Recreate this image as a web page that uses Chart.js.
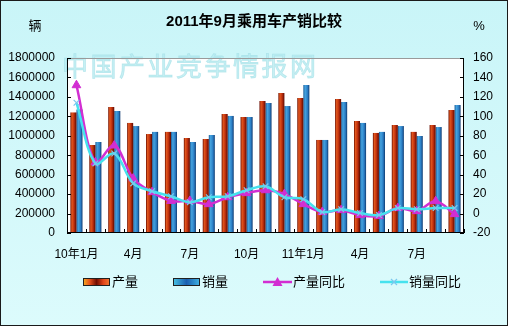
<!DOCTYPE html>
<html><head><meta charset="utf-8">
<script src="https://cdn.jsdelivr.net/npm/chart.js@4/dist/chart.umd.min.js"></script>
<style>html,body{margin:0;padding:0;background:#fff}#wrap{width:508px;height:326px;position:relative}</style>
</head><body><div id="wrap"><canvas id="c" width="508" height="326"></canvas></div>
<script>
const categories = ['10年1月','2月','3月','4月','5月','6月','7月','8月','9月','10月','11月','12月','11年1月','2月','3月','4月','5月','6月','7月','8月','9月'];
const production = [1240000, 905000, 1296000, 1132000, 1018000, 1040000, 977000, 967000, 1224000, 1193000, 1358000, 1440000, 1389000, 957000, 1379000, 1152000, 1029000, 1111000, 1040000, 1111000, 1265000];
const sales = [1270000, 936000, 1255000, 1100000, 1040000, 1040000, 936000, 1008000, 1204000, 1193000, 1337000, 1306000, 1523000, 957000, 1348000, 1132000, 1040000, 1100000, 998000, 1090000, 1317000];
const prodYoY = [132, 52.6, 70, 36, 22, 13, 13, 9.7, 16.8, 21, 24, 20, 9.7, 1.5, 3.5, -1.6, -2.6, 5.6, 2.5, 12.7, -0.6];
const salesYoY = [114, 51.6, 61.8, 31, 23, 17.8, 11.7, 16.8, 17.8, 24, 28, 16.8, 14.8, 1.5, 4.5, 0.5, -1.6, 5.6, 4.5, 5.6, 5.6];
const seriesNames = ['产量','销量','产量同比','销量同比'];
const titleText = '2011年9月乘用车产销比较';
const leftUnit = '辆', rightUnit = '%';
const watermark = '中国产业竞争情报网';

const FONT = '"Liberation Sans", "Noto Sans CJK SC", sans-serif';
const CAT_PCT = 0.64, BAR_PCT = 1.0;
const orangeStops = [[0,'#6a0c00'],[0.25,'#e2581e'],[0.6,'#c0300e'],[1,'#5a0800']];
const blueStops = [[0,'#1c5c98'],[0.3,'#45a4e0'],[0.7,'#2a7cc4'],[1,'#0f3a70']];

function barGrad(ctx, dsIdx, stops, fallback){
  const chart = ctx.chart, xs = chart.scales && chart.scales.x;
  if (!xs || !chart.chartArea || ctx.dataIndex === undefined) return fallback;
  const n = categories.length, cw = xs.width / n, gw = cw * CAT_PCT, bw = gw / 2;
  const c = xs.getPixelForValue(ctx.dataIndex);
  const left = c - gw / 2 + dsIdx * bw;
  const g = chart.ctx.createLinearGradient(left, 0, left + bw, 0);
  stops.forEach(s => g.addColorStop(s[0], s[1]));
  return g;
}

const deco = {
  id: 'deco',
  beforeDraw(chart){
    const c = chart.ctx, a = chart.chartArea, W = chart.width, H = chart.height;
    c.save();
    const g = c.createLinearGradient(0,0,0,H);
    g.addColorStop(0,'#c9f5f8'); g.addColorStop(1,'#dcfbfc');
    c.fillStyle = g; c.fillRect(0,0,W,H);
    c.fillStyle = '#ffffff'; c.fillRect(a.left, a.top, a.right-a.left, a.bottom-a.top);
    c.restore();
  },
  beforeDatasetsDraw(chart){
    const c = chart.ctx, a = chart.chartArea;
    c.save();
    c.font = '26px "Noto Sans CJK SC", sans-serif';
    c.fillStyle = 'rgba(185,236,241,0.8)';
    c.strokeStyle = 'rgba(160,222,230,0.6)'; c.lineWidth = 0.8;
    c.textBaseline = 'middle'; c.textAlign = 'left';
    try { c.letterSpacing = '2.5px'; } catch(e) {}
    c.fillText(watermark, a.left - 5, 66);
    c.strokeText(watermark, a.left - 5, 66);
    c.restore();
  },
  afterDraw(chart){
    const c = chart.ctx, a = chart.chartArea, W = chart.width, H = chart.height;
    const xs = chart.scales.x, ys = chart.scales.y;
    c.save();
    c.lineWidth = 1;
    c.strokeStyle = '#9a9a9a';
    c.beginPath(); c.moveTo(a.left, a.top + 0.5); c.lineTo(a.right, a.top + 0.5); c.stroke();
    c.strokeStyle = '#000';
    c.beginPath();
    c.moveTo(a.left + 0.5, a.top); c.lineTo(a.left + 0.5, a.bottom);
    c.moveTo(a.right - 0.5, a.top); c.lineTo(a.right - 0.5, a.bottom);
    c.moveTo(a.left, a.bottom - 0.5); c.lineTo(a.right, a.bottom - 0.5);
    ys.ticks.forEach((t,i) => {
      const y = Math.round(ys.getPixelForTick(i)) + 0.5;
      c.moveTo(a.left, y); c.lineTo(a.left + 4, y);
      c.moveTo(a.right - 4, y); c.lineTo(a.right, y);
    });
    const n = categories.length, cw = (xs.right - xs.left) / n;
    for (let i = 0; i <= n; i++) {
      const x = Math.round(xs.left + i * cw) + 0.5;
      c.moveTo(x, a.bottom); c.lineTo(x, a.bottom - 4);
    }
    c.stroke();
    c.fillStyle = '#000';
    c.textBaseline = 'middle'; c.textAlign = 'center';
    c.font = 'bold 15px ' + FONT;
    c.fillText(titleText, 254, 22);
    c.font = '13px ' + FONT;
    c.fillText(leftUnit, 35, 26);
    c.fillText(rightUnit, 479, 26);
    const ly = 282;
    const box = (x, stops) => {
      const g = c.createLinearGradient(x, 0, x + 27, 0);
      stops.forEach(s => g.addColorStop(s[0], s[1]));
      c.fillStyle = g; c.fillRect(x, ly - 4, 27, 8);
      c.strokeStyle = '#202020'; c.lineWidth = 1; c.strokeRect(x + 0.5, ly - 3.5, 26, 7);
    };
    box(83, [[0,'#f6b020'],[0.25,'#e6501c'],[0.5,'#700c00'],[0.75,'#e24418'],[1,'#f07a30']]);
    box(173, [[0,'#48c4e4'],[0.5,'#1a5eb0'],[1,'#40b4e4']]);
    c.font = '13px ' + FONT; c.textAlign = 'left'; c.fillStyle = '#000';
    c.fillText(seriesNames[0], 112, ly);
    c.fillText(seriesNames[1], 202, ly);
    c.lineWidth = 2.5;
    c.strokeStyle = '#d22ed2';
    c.beginPath(); c.moveTo(263, ly); c.lineTo(292, ly); c.stroke();
    c.fillStyle = '#d22ed2';
    c.beginPath(); c.moveTo(277.5, ly - 5); c.lineTo(282.5, ly + 4); c.lineTo(272.5, ly + 4); c.closePath(); c.fill();
    c.strokeStyle = '#46e2ee';
    c.beginPath(); c.moveTo(380, ly); c.lineTo(408, ly); c.stroke();
    c.lineWidth = 1.2; c.strokeStyle = '#7cc8ee';
    c.beginPath(); c.moveTo(391, ly - 3); c.lineTo(397, ly + 3); c.moveTo(397, ly - 3); c.lineTo(391, ly + 3); c.stroke();
    c.fillStyle = '#000';
    c.fillText(seriesNames[2], 293, ly);
    c.fillText(seriesNames[3], 409, ly);
    c.strokeStyle = '#1a1a1a'; c.lineWidth = 1;
    c.strokeRect(0.5, 0.5, W - 1, H - 1);
    c.restore();
  }
};

new Chart(document.getElementById('c'), {
  data: {
    labels: categories,
    datasets: [
      { type: 'bar', label: seriesNames[0], data: production, yAxisID: 'y', order: 3,
        backgroundColor: ctx => barGrad(ctx, 0, orangeStops, '#c0300e'), borderWidth: 0,
        categoryPercentage: CAT_PCT, barPercentage: BAR_PCT },
      { type: 'bar', label: seriesNames[1], data: sales, yAxisID: 'y', order: 3,
        backgroundColor: ctx => barGrad(ctx, 1, blueStops, '#2a7cc4'), borderWidth: 0,
        categoryPercentage: CAT_PCT, barPercentage: BAR_PCT },
      { type: 'line', label: seriesNames[2], data: prodYoY, yAxisID: 'y1', order: 2,
        borderColor: '#d22ed2', backgroundColor: '#d22ed2', borderWidth: 2.5, tension: 0.35,
        pointStyle: 'triangle', pointRadius: 5, pointBorderWidth: 1, pointBackgroundColor: '#d22ed2', pointBorderColor: '#d22ed2' },
      { type: 'line', label: seriesNames[3], data: salesYoY, yAxisID: 'y1', order: 1,
        borderColor: '#46e2ee', backgroundColor: '#46e2ee', borderWidth: 2.5, tension: 0.35,
        pointStyle: 'crossRot', pointRadius: 4, pointBorderWidth: 1.2, pointBorderColor: '#7cc8ee' }
    ]
  },
  options: {
    responsive: false, animation: false,
    layout: { padding: { left: 0, right: 0, top: 58, bottom: 0 } },
    plugins: { legend: { display: false }, title: { display: false }, tooltip: { enabled: false } },
    scales: {
      x: { offset: true, grid: { display: false, drawTicks: false }, border: { display: false },
        afterFit: s => { s.height = 93; },
        ticks: { autoSkip: false, maxRotation: 0, minRotation: 0, padding: 14, color: '#000',
          font: { family: FONT, size: 12 },
          callback: (v, i) => (i % 3 === 0 ? categories[i] : '') } },
      y: { position: 'left', min: 0, max: 1800000, grid: { display: false, drawTicks: false }, border: { display: false },
        afterFit: s => { s.width = 67; },
        ticks: { stepSize: 200000, padding: 12, color: '#000', font: { family: FONT, size: 12 },
          callback: v => String(v) } },
      y1: { position: 'right', min: -20, max: 160, grid: { display: false, drawTicks: false }, border: { display: false },
        afterFit: s => { s.width = 44; },
        ticks: { stepSize: 20, padding: 9, color: '#000', font: { family: FONT, size: 12 } } }
    }
  },
  plugins: [deco]
});
</script></body></html>
